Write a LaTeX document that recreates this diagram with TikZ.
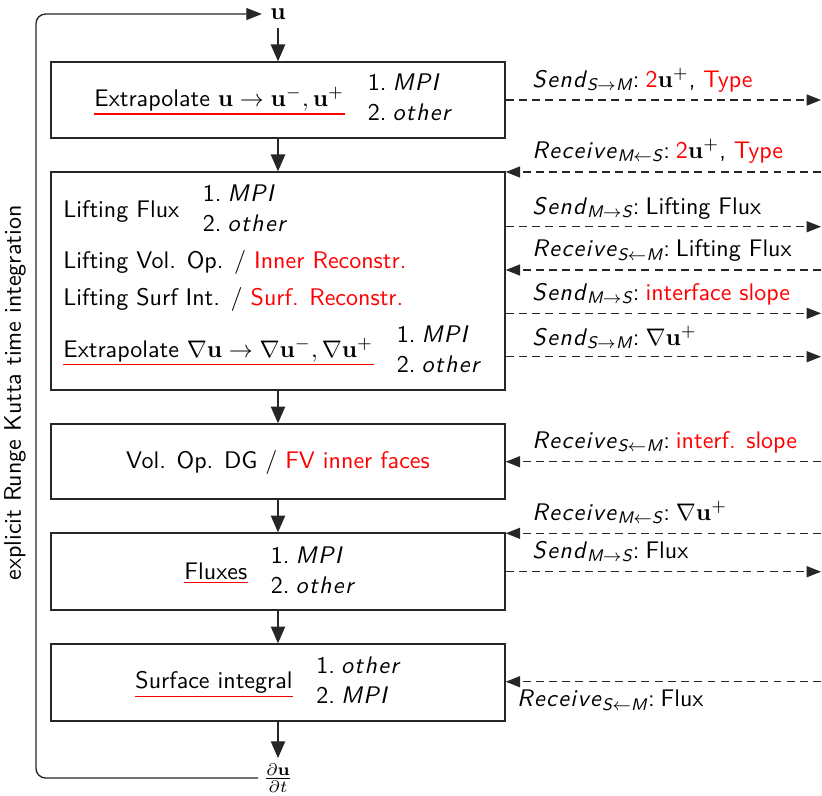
\documentclass[tikz,border=0pt]{standalone}
\usepackage{amsmath}
\usetikzlibrary{arrows.meta}
\renewcommand{\familydefault}{\sfdefault}
\definecolor{ulred}{RGB}{255,0,0}
\makeatletter
\def\sp@loop#1{\ifx#1\relax\else#1\kern0.6pt\expandafter\sp@loop\fi}
\newcommand\spit[1]{\textit{\sp@loop#1\relax}}
\makeatother
\newcommand\lst[2]{\begin{tabular}{@{}l@{}}1.\hspace{2.5pt}\spit{#1}\\[0.5pt]2.\hspace{2.5pt}\spit{#2}\end{tabular}}
\newcommand\snd[2]{\spit{Send}$_{\text{\itshape #1}\to\text{\itshape #2}}$:\hspace{2.5pt}}
\newcommand\rcv[2]{\spit{Receive}$_{\text{\itshape #1}\leftarrow\text{\itshape #2}}$:\hspace{2.5pt}}
\begin{document}
\begin{tikzpicture}[x=0.41667pt,y=-0.41667pt,
  box/.style={draw=black!85, line width=0.6pt, minimum width=189.17pt, inner sep=0pt},
  txt/.style={anchor=base west, inner sep=0pt},
  lst/.style={anchor=west, inner sep=0pt},
  ul/.style={draw=ulred, line width=0.5pt},
  lbl/.style={anchor=base west, inner sep=0pt},
  flow/.style={draw=black!85, line width=0.55pt, -{Triangle[length=7pt,width=6pt]}},
  msg/.style={draw=black!85, line width=0.5pt, dash pattern=on 3.3pt off 2.2pt, -{Triangle[length=6pt,width=4.6pt]}},
  loopline/.style={draw=black!85, line width=0.55pt, rounded corners=4pt, -{Triangle[length=6.5pt,width=5pt]}}]
\useasboundingbox (0,0) rectangle (822,795);

% boxes
\node[box, minimum height=31.67pt] (b1) at (278,100) {};
\node[box, minimum height=90.83pt] (b2) at (278,281) {};
\node[box, minimum height=31.25pt] (b3) at (278,461.5) {};
\node[box, minimum height=32.08pt] (b4) at (278,571.5) {};
\node[box, minimum height=32.08pt] (b5) at (278,682.5) {};

% box 1
\node[txt] (t1) at (94,106) {Extrapolate $\mathbf{u}\to\mathbf{u}^-,\mathbf{u}^+$};
\node[lst] (t1l) at ([xshift=9.5pt,yshift=2.5pt]t1.base east) {\lst{MPI}{other}};
% box 2
\node[txt] (t2a) at (63,217) {Lifting Flux};
\node[lst] (t2al) at ([xshift=9.5pt,yshift=2.5pt]t2a.base east) {\lst{MPI}{other}};
\node[txt] (t2b) at (63,268.3) {Lifting Vol. Op. / \textcolor{red}{Inner Reconstr.}};
\node[txt] (t2c) at (63,305) {Lifting Surf Int. / \textcolor{red}{Surf. Reconstr.}};
\node[txt] (t2d) at (63,357.3) {Extrapolate $\nabla\mathbf{u}\to\nabla\mathbf{u}^-,\nabla\mathbf{u}^+$};
\node[lst] (t2dl) at ([xshift=9.5pt,yshift=2.5pt]t2d.base east) {\lst{MPI}{other}};
% box 3
\node[anchor=base, inner sep=0pt] (t3) at (278,468.3) {Vol. Op. DG / \textcolor{red}{FV inner faces}};
% box 4
\node[txt] (t4) at (184,579) {Fluxes};
\node[lst] (t4l) at ([xshift=9.5pt,yshift=2.5pt]t4.base east) {\lst{MPI}{other}};
% box 5
\node[txt] (t5) at (135,688.3) {Surface integral};
\node[lst] (t5l) at ([xshift=9.5pt,yshift=2.5pt]t5.base east) {\lst{other}{MPI}};

% loop
\node[inner sep=3.33pt] (u) at (278,14) {$\mathbf{u}$};
\node[inner sep=2pt] (dudt) at (278,778) {$\frac{\partial\mathbf{u}}{\partial t}$};
\coordinate (ctl) at (36,14);
\draw[loopline] (dudt.west) -| (ctl) -- (u.west);
\node[rotate=90, inner sep=0pt] (rk) at (15,393) {explicit Runge Kutta time integration};

% vertical flow
\draw[flow] (u.south) -- (b1.north);
\draw[flow] (b1.south) -- (b2.north);
\draw[flow] (b2.south) -- (b3.north);
\draw[flow] (b3.south) -- (b4.north);
\draw[flow] (b4.south) -- (b5.north);
\draw[flow] (b5.south) -- (dudt.north);

% message coordinates
\coordinate (r1) at (821,100);
\coordinate (r2) at (821,172);
\coordinate (r3) at (821,226.7);
\coordinate (r4) at (821,270);
\coordinate (r5) at (821,313.3);
\coordinate (r6) at (821,356.7);
\coordinate (r7) at (821,461.7);
\coordinate (r8) at (821,533.3);
\coordinate (r9) at (821,571.7);
\coordinate (r10) at (821,681.7);

\draw[msg] (b1.east |- r1) -- (r1);
\draw[msg] (r2) -- (b2.east |- r2);
\draw[msg] (b2.east |- r3) -- (r3);
\draw[msg] (r4) -- (b2.east |- r4);
\draw[msg] (b2.east |- r5) -- (r5);
\draw[msg] (b2.east |- r6) -- (r6);
\draw[msg] (r7) -- (b3.east |- r7);
\draw[msg] (r8) -- (b4.east |- r8);
\draw[msg] (b4.east |- r9) -- (r9);
\draw[msg] (r10) -- (b5.east |- r10);

% message labels
\node[lbl] (l1) at (532,87) {\snd{S}{M}\textcolor{red}{2}$\mathbf{u}^+$, \textcolor{red}{Type}};
\node[lbl] (l2) at (532,158) {\rcv{M}{S}\textcolor{red}{2}$\mathbf{u}^+$, \textcolor{red}{Type}};
\node[lbl] (l3) at (532,214) {\snd{M}{S}Lifting Flux};
\node[lbl] (l4) at (532,256.7) {\rcv{S}{M}Lifting Flux};
\node[lbl] (l5) at (532,300) {\snd{M}{S}\textcolor{red}{interface slope}};
\node[lbl] (l6) at (532,345) {\snd{S}{M}$\nabla\mathbf{u}^+$};
\node[lbl] (l7) at (532,448) {\rcv{S}{M}\textcolor{red}{interf. slope}};
\node[lbl] (l8) at (532,520) {\rcv{M}{S}$\nabla\mathbf{u}^+$};
\node[lbl] (l9) at (532,558) {\snd{M}{S}Flux};
\node[lbl] (l10) at (516.7,706.7) {\rcv{S}{M}Flux};

% red underlines
\draw[ul] ([yshift=-1.2pt]t1.south west) -- ([yshift=-1.2pt]t1.south east);
\draw[ul] ([yshift=-1.0pt]t2d.south west) -- ([yshift=-1.0pt]t2d.south east);
\draw[ul] ([yshift=-1.2pt]t4.south west) -- ([yshift=-1.2pt]t4.south east);
\draw[ul] ([yshift=-1.2pt]t5.south west) -- ([yshift=-1.2pt]t5.south east);
\end{tikzpicture}
\end{document}
